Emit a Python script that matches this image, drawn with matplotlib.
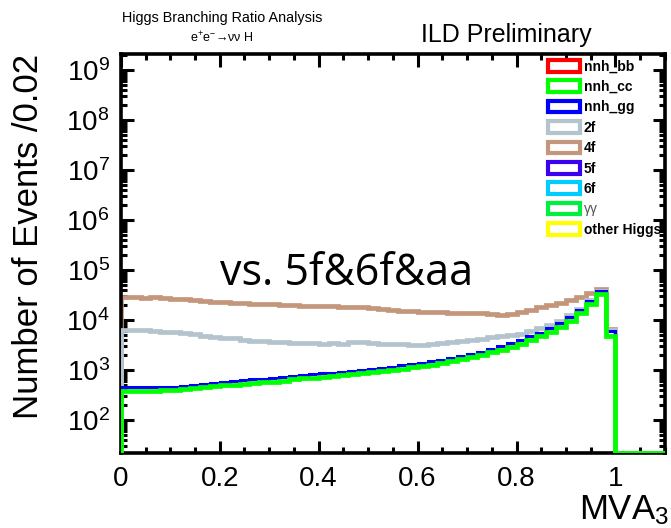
import numpy as np
import matplotlib
matplotlib.use("Agg")
import matplotlib.pyplot as plt
from matplotlib.patches import Patch
from matplotlib.ticker import LogLocator, MultipleLocator

plt.rcParams['font.family'] = ['Liberation Sans', 'DejaVu Sans']
plt.rcParams['mathtext.fontset'] = 'custom'
plt.rcParams['mathtext.rm'] = 'Liberation Sans'
plt.rcParams['mathtext.it'] = 'Liberation Sans:italic'

# bin edges of the MVA3 histogram (width 0.02)
edges = np.round(np.arange(0, 1.1001, 0.02), 2)

# stacked histogram tops, one value per bin (0 -> empty bin)
bkg_4f = [2.9e4, 2.9e4, 2.8e4, 2.9e4, 2.8e4, 2.7e4, 2.6e4, 2.5e4, 2.4e4, 2.3e4,
          2.3e4, 2.2e4, 2.2e4, 2.1e4, 2.1e4, 2.05e4, 2.0e4, 2.0e4, 1.95e4, 1.95e4,
          1.9e4, 1.9e4, 1.85e4, 1.85e4, 1.8e4, 1.75e4, 1.7e4, 1.6e4, 1.55e4, 1.5e4,
          1.45e4, 1.45e4, 1.45e4, 1.4e4, 1.4e4, 1.4e4, 1.4e4, 1.35e4, 1.25e4, 1.35e4,
          1.45e4, 1.6e4, 1.8e4, 2.0e4, 2.2e4, 2.5e4, 2.9e4, 3.4e4, 4.1e4, 6.5e3,
          0, 0, 0, 0, 0]
bkg_2f = [6.3e3, 6.3e3, 6.2e3, 6.0e3, 5.8e3, 5.9e3, 5.6e3, 5.2e3, 4.9e3, 4.5e3,
          4.3e3, 4.3e3, 4.0e3, 3.8e3, 3.9e3, 3.7e3, 3.6e3, 3.5e3, 3.5e3, 3.5e3,
          3.3e3, 3.5e3, 3.4e3, 3.6e3, 3.6e3, 3.5e3, 3.4e3, 3.3e3, 3.3e3, 3.2e3,
          3.2e3, 3.3e3, 3.5e3, 3.6e3, 3.8e3, 4.0e3, 4.2e3, 4.5e3, 4.8e3, 5.0e3,
          5.3e3, 6.0e3, 7.0e3, 8.0e3, 9.5e3, 1.25e4, 1.7e4, 2.5e4, 3.9e4, 6.3e3,
          0, 0, 0, 0, 0]
nnh_gg = [450, 450, 455, 455, 460, 470, 490, 510, 530, 560,
          590, 600, 620, 650, 670, 690, 720, 760, 800, 830,
          860, 890, 930, 970, 1010, 1060, 1110, 1170, 1240, 1320,
          1400, 1500, 1620, 1760, 1920, 2100, 2350, 2650, 3000, 3450,
          4000, 4700, 5600, 6900, 8700, 11500, 16000, 24000, 38000, 6100,
          0, 0, 0, 0, 0]
nnh_cc = [380, 385, 390, 385, 395, 400, 415, 430, 450, 475,
          505, 510, 530, 555, 570, 590, 615, 650, 680, 710,
          735, 760, 795, 830, 860, 905, 945, 1000, 1060, 1130,
          1200, 1280, 1380, 1500, 1640, 1790, 2000, 2260, 2560, 2940,
          3400, 4000, 4780, 5900, 7400, 9800, 13600, 20500, 33000, 4800,
          0, 0, 0, 0, 0]

labels = ['nnh_bb', 'nnh_cc', 'nnh_gg', '2f', '4f', '5f', '6f', 'γγ', 'other Higgs']
colors = ['#ff0000', '#00ff00', '#0000ff', '#b4c4ce', '#c4977c', '#3c00f0', '#00ccff', '#00f040', '#ffff00']

ymin, ymax = 22, 2.1e9


def clip(v):
    v = np.asarray(v, dtype=float)
    return np.where(v > 0, v, ymin)


fig = plt.figure(figsize=(6.71, 5.28), dpi=100)
ax = fig.add_axes([0.180, 0.142, 0.811, 0.756])

ax.stairs(clip(bkg_4f), edges, color=colors[4], lw=3.4, zorder=2)
ax.stairs(clip(bkg_2f), edges, color=colors[3], lw=3.4, zorder=3)
ax.stairs(clip(nnh_gg), edges, color=colors[2], lw=2.2, zorder=4)
ax.stairs(clip(nnh_cc), edges, color=colors[1], lw=3.4, zorder=5, baseline=ymin)

ax.set_yscale('log')
ax.set_xlim(0, 1.1)
ax.set_ylim(ymin, ymax)

ax.xaxis.set_minor_locator(MultipleLocator(0.05))
ax.yaxis.set_minor_locator(LogLocator(base=10, subs=np.arange(2, 10), numticks=20))
ax.set_xticks([0, 0.2, 0.4, 0.6, 0.8, 1.0])
ax.set_xticklabels(['0', '0.2', '0.4', '0.6', '0.8', '1'])
ax.set_yticks([10.0**k for k in range(2, 10)])
ax.set_yticklabels([r'$10^{%d}$' % k for k in range(2, 10)])

ax.tick_params(which='both', direction='in', top=True, right=True, width=2.2)
ax.tick_params(which='major', length=9, labelsize=20)
ax.tick_params(axis='x', which='major', pad=9)
ax.tick_params(axis='y', which='major', pad=8)
ax.tick_params(which='minor', length=4.5)
for s in ax.spines.values():
    s.set_linewidth(2.6)

fig.text(0.042, 1 - 236 / 528, 'Number of Events /0.02', fontsize=25,
         rotation=90, ha='center', va='center')
fig.text(0.997, 0.002, 'MVA$_3$', fontsize=25, ha='right', va='bottom')

fig.text(0.331, 0.966, 'Higgs Branching Ratio Analysis', fontsize=10.4,
         ha='center', va='center')
fig.text(0.331, 0.928, 'e$^{+}$e$^{-}$→νν H', fontsize=9, ha='center', va='center')
fig.text(0.755, 0.934, 'ILD Preliminary', fontsize=18, ha='center', va='center')
ax.text(0.2, 5e4, 'vs. 5f&6f&aa', fontsize=31, family=['Open Sans', 'DejaVu Sans'],
        ha='left', va='baseline', zorder=6)

handles = [Patch(facecolor='white', edgecolor=c, lw=3.0) for c in colors]
leg = fig.legend(handles, labels, loc='upper left', bbox_to_anchor=(0.817, 0.887),
                 frameon=False, fontsize=10, handlelength=2.3, handleheight=0.9,
                 handletextpad=0.25, labelspacing=0.46, borderpad=0, borderaxespad=0)
for t in leg.get_texts():
    if t.get_text() == 'γγ':
        t.set_color('#555555')
    else:
        t.set_fontweight('bold')

fig.savefig('out.png', dpi=100)
